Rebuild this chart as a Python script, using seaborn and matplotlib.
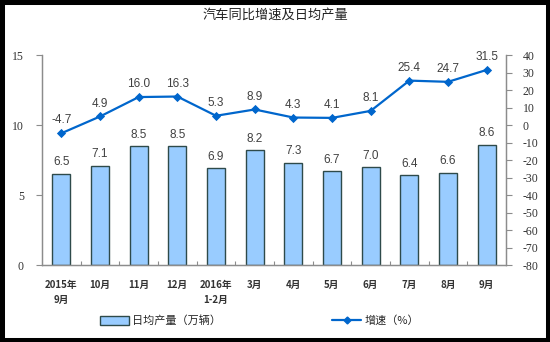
import matplotlib
matplotlib.use("Agg")
import matplotlib.pyplot as plt
import matplotlib.patches as mpatches
from matplotlib.lines import Line2D
import seaborn as sns
import pandas as pd

# Data
months = ["2015年\n9月", "10月", "11月", "12月", "2016年\n1-2月", "3月", "4月",
          "5月", "6月", "7月", "8月", "9月"]
daily_output = [6.5, 7.1, 8.5, 8.5, 6.9, 8.2, 7.3, 6.7, 7.0, 6.4, 6.6, 8.6]
growth = [-4.7, 4.9, 16.0, 16.3, 5.3, 8.9, 4.3, 4.1, 8.1, 25.4, 24.7, 31.5]
left_ticks = [0, 5, 10, 15]
right_ticks = list(range(-80, 41, 10))

title = "汽车同比增速及日均产量"
bar_name = "日均产量（万辆）"
line_name = "增速（%）"

sns.set_theme(style="white")
plt.rcParams["font.family"] = ["Noto Sans CJK SC", "DejaVu Sans"]
plt.rcParams["axes.unicode_minus"] = False

bar_color = "#99CCFF"
edge_color = "#2E4A4A"
line_color = "#0066CC"
label_color = "#404040"
axis_color = "#8C8C8C"
num_font = ["Liberation Serif"]
lab_font = ["Liberation Sans"]

df = pd.DataFrame({"month": months, "output": daily_output, "growth": growth})

fig = plt.figure(figsize=(5.5, 3.42), dpi=100)
fig.patch.set_facecolor("white")
ax = fig.add_axes([0.0764, 0.225, 0.8436, 0.614])

sns.barplot(data=df, x="month", y="output", ax=ax, color=bar_color,
            width=0.47, edgecolor=edge_color, linewidth=1.0, saturation=1)
for p, v in zip(ax.patches, daily_output):
    ax.annotate(f"{v:.1f}", (p.get_x() + p.get_width() / 2, v),
                xytext=(0, 4), textcoords="offset points", ha="center",
                va="bottom", fontsize=8.5, color=label_color, family=lab_font)

ax.set_ylim(0, 15)
ax.set_yticks(left_ticks)
ax.set_xlim(-0.5, len(months) - 0.5)
ax.set_xlabel("")
ax.set_ylabel("")

ax2 = ax.twinx()
sns.pointplot(data=df, x="month", y="growth", ax=ax2, color=line_color,
              markers="D", markersize=3.5, linewidth=1.6)
for i, v in enumerate(growth):
    ax2.annotate(f"{v:.1f}", (i, v), xytext=(0, 5), textcoords="offset points",
                 ha="center", va="bottom", fontsize=8.5, color=label_color,
                 family=lab_font)
ax2.set_ylim(-80, 40)
ax2.set_yticks(right_ticks)
ax2.set_ylabel("")
ax2.set_xlim(-0.5, len(months) - 0.5)

for a in (ax, ax2):
    a.spines["top"].set_visible(False)
    for s in ("left", "right", "bottom"):
        a.spines[s].set_color(axis_color)
        a.spines[s].set_linewidth(0.9)
    a.set_facecolor("none")

ax.tick_params(axis="y", which="major", left=True, length=4, width=0.8,
               color=axis_color, pad=9, labelsize=8.5, labelcolor="#333333")
ax2.tick_params(axis="y", which="major", right=True, length=4, width=0.8,
                color=axis_color, pad=8, labelsize=8.5, labelcolor="#333333")
for t in ax.get_yticklabels() + ax2.get_yticklabels():
    t.set_family(num_font)

ax.set_xticks(range(len(months)))
ax.set_xticklabels(months, fontsize=7, color="#333333", fontweight="bold",
                   linespacing=1.6)
ax.tick_params(axis="x", which="major", bottom=False, pad=5)
ax.set_xticks([i + 0.5 for i in range(len(months) - 1)], minor=True)
ax.tick_params(axis="x", which="minor", bottom=True, direction="in",
               length=3, width=0.8, color=axis_color)

fig.text(0.5, 0.955, title, ha="center", va="center", fontsize=9.5,
         color="#222222")

handles = [mpatches.Patch(facecolor=bar_color, edgecolor=edge_color,
                          linewidth=1.0, label=bar_name),
           Line2D([0], [0], color=line_color, marker="D", markersize=3.5,
                  linewidth=1.6, label=line_name)]
fig.legend(handles=handles, loc="center", bbox_to_anchor=(0.472, 0.062),
           ncol=2, frameon=False, fontsize=8, columnspacing=10.0,
           handlelength=2.6, handleheight=0.8, handletextpad=0.3)

# Black frame around the figure
fig.patches.append(mpatches.Rectangle((0, 0), 1, 1, transform=fig.transFigure,
                                      fill=False, edgecolor="black",
                                      linewidth=6.5, zorder=10))

fig.savefig("out.png", dpi=100)
